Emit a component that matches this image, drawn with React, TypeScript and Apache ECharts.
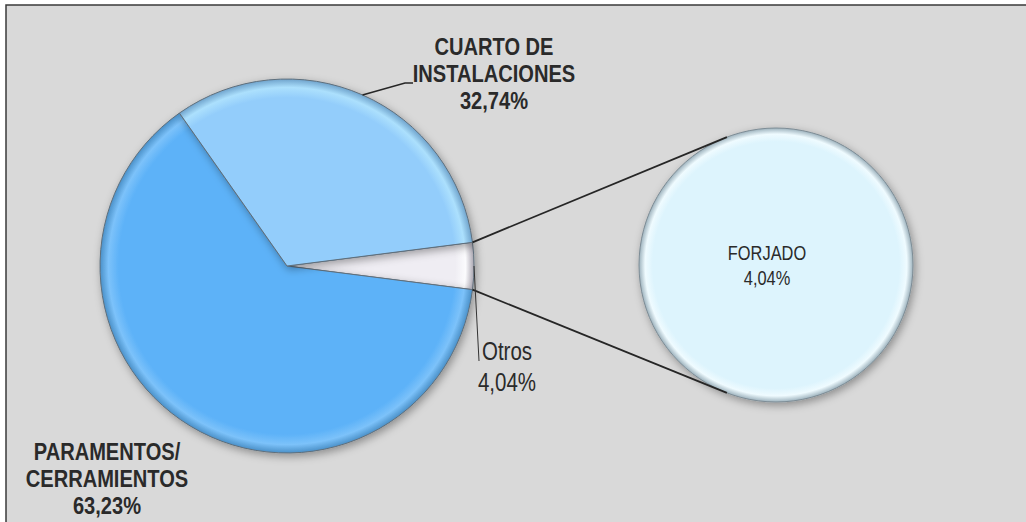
import React, { useEffect, useRef } from 'react';
import * as echarts from 'echarts';

// ---- data ----
const categories = ['PARAMENTOS/\nCERRAMIENTOS', 'CUARTO DE\nINSTALACIONES', 'FORJADO'];
const values = [63.23, 32.74, 4.04];
const inSecondary = [false, false, true];
const otherName = 'Otros';

const fmt = (v: number) => v.toFixed(2).replace('.', ',') + '%';

const FONT = "'Liberation Sans', Arial, sans-serif";
const NARROW = 0.82;

export default function App() {
  const ref = useRef<HTMLDivElement>(null);

  useEffect(() => {
    const chart = echarts.init(ref.current!, null, { renderer: 'svg' });

    const mainC = [287, 266];
    const mainR = 187;
    const secC = [776, 265];
    const secR = 137;

    const otherVal = values.reduce((s, v, i) => s + (inSecondary[i] ? v : 0), 0);
    const total = values.reduce((s, v, i) => s + (inSecondary[i] ? 0 : v), 0) + otherVal;
    const otherSpan = (otherVal / total) * 360;
    const startAngle = otherSpan / 2;

    const colors: Record<string, string[]> = {
      'PARAMENTOS/\nCERRAMIENTOS': ['#5DB2F8', '#7cc2fa', '#4a90c8'],
      'CUARTO DE\nINSTALACIONES': ['#93CDFB', '#ace0fd', '#6fa3cc'],
      FORJADO: ['#DDF4FD', '#effbff', '#9db2bd'],
      Otros: ['#EFEDF3', '#fbfbfd', '#a9a5b0'],
    };
    const grad = (c: number[], r: number, name: string) => {
      const [base, light, edge] = colors[name];
      return {
        type: 'radial',
        x: c[0],
        y: c[1],
        r,
        global: true,
        colorStops: [
          { offset: 0, color: base },
          { offset: 0.9, color: base },
          { offset: 0.955, color: light },
          { offset: 1, color: edge },
        ],
      };
    };

    const primaryIdx = values.map((_, i) => i).filter((i) => !inSecondary[i]);
    // clockwise order starting from "Otros" centred at 0 deg
    const mainData: any[] = [
      { name: otherName, value: otherVal, itemStyle: { color: grad(mainC, mainR, 'Otros') } },
      ...primaryIdx.map((i) => ({
        name: categories[i],
        value: values[i],
        itemStyle: { color: grad(mainC, mainR, categories[i]) },
      })),
    ];

    const secData = values
      .map((v, i) => ({ v, i }))
      .filter((d) => inSecondary[d.i])
      .map((d) => ({
        name: categories[d.i],
        value: d.v,
        itemStyle: { color: grad(secC, secR, categories[d.i]) },
      }));

    // slice mid angles
    const angles: Record<string, number> = {};
    let a = startAngle;
    mainData.forEach((d) => {
      const span = (d.value / total) * 360;
      angles[d.name] = a - span / 2;
      a -= span;
    });
    const edgePt = (deg: number) => [
      mainC[0] + mainR * Math.cos((deg * Math.PI) / 180),
      mainC[1] - mainR * Math.sin((deg * Math.PI) / 180),
    ];

    const topMain = edgePt(startAngle);
    const botMain = edgePt(-startAngle);
    const secAng = 111;
    const topSec = [
      secC[0] + secR * Math.cos((secAng * Math.PI) / 180),
      secC[1] - secR * Math.sin((secAng * Math.PI) / 180),
    ];
    const botSec = [topSec[0], secC[1] + (secC[1] - topSec[1])];

    // label anchors (layout only)
    const labelPos: Record<string, any> = {
      [otherName]: { x: 507, y: 367, size: 25, weight: 'normal', lh: 31, leader: [[479, 361]] },
      'PARAMENTOS/\nCERRAMIENTOS': { x: 107, y: 479, size: 24.5, weight: 'bold', lh: 27 },
      'CUARTO DE\nINSTALACIONES': { x: 494, y: 74, size: 24.5, weight: 'bold', lh: 27, leader: [[405, 83], [413, 83]] },
      FORJADO: { x: 767, y: 265, size: 20, weight: 'normal', lh: 25 },
    };

    const allLabels = [
      ...mainData.map((d) => ({ name: d.name, value: d.value, main: true })),
      ...secData.map((d) => ({ name: d.name, value: d.value, main: false })),
    ];

    const textEls: any[] = allLabels.map((d) => {
      const lp = labelPos[d.name];
      return {
        type: 'text',
        z: 20,
        x: lp.x,
        y: lp.y,
        scaleX: NARROW,
        silent: true,
        style: {
          text: `${d.name}\n${fmt(d.value)}`,
          fill: '#2a2a2a',
          fontFamily: FONT,
          fontSize: lp.size,
          fontWeight: lp.weight,
          lineHeight: lp.lh,
          textAlign: 'center',
          textVerticalAlign: 'middle',
        },
      };
    });

    const leaderEls: any[] = allLabels
      .filter((d) => d.main && labelPos[d.name].leader)
      .map((d) => {
        const start = edgePt(angles[d.name]);
        const bold = labelPos[d.name].weight === 'bold';
        return {
          type: 'polyline',
          z: 15,
          silent: true,
          shape: { points: [start, ...labelPos[d.name].leader] },
          style: { stroke: bold ? '#262626' : '#333333', lineWidth: bold ? 1.6 : 1, fill: 'none' },
        };
      });

    const shadow = {
      shadowBlur: 8,
      shadowColor: 'rgba(0,0,0,0.35)',
      shadowOffsetX: 2,
      shadowOffsetY: 3,
    };

    chart.setOption({
      animation: false,
      backgroundColor: '#ffffff',
      graphic: [
        {
          type: 'rect',
          z: -10,
          shape: { x: 6, y: 5, width: 1060, height: 560 },
          style: { fill: '#D9D9D9', stroke: '#3a3a3a', lineWidth: 1.5 },
          silent: true,
        },
        {
          type: 'line',
          z: 10,
          shape: { x1: topMain[0], y1: topMain[1], x2: topSec[0], y2: topSec[1] },
          style: { stroke: '#262626', lineWidth: 1.8 },
          silent: true,
        },
        {
          type: 'line',
          z: 10,
          shape: { x1: botMain[0], y1: botMain[1], x2: botSec[0], y2: botSec[1] },
          style: { stroke: '#262626', lineWidth: 1.8 },
          silent: true,
        },
        ...leaderEls,
        ...textEls,
      ],
      series: [
        {
          type: 'pie',
          center: mainC,
          radius: mainR,
          startAngle,
          clockwise: true,
          silent: true,
          itemStyle: { borderColor: '#5f6f7c', borderWidth: 1, ...shadow },
          label: { show: false },
          labelLine: { show: false },
          data: mainData,
        },
        {
          type: 'pie',
          center: secC,
          radius: secR,
          silent: true,
          itemStyle: { borderColor: '#7d8c95', borderWidth: 1, ...shadow },
          label: { show: false },
          labelLine: { show: false },
          data: secData,
        },
      ],
    } as any);

    return () => chart.dispose();
  }, []);

  return (
    <div
      ref={ref}
      style={{ position: 'fixed', left: 0, top: 0, width: 1026, height: 522 }}
    />
  );
}
